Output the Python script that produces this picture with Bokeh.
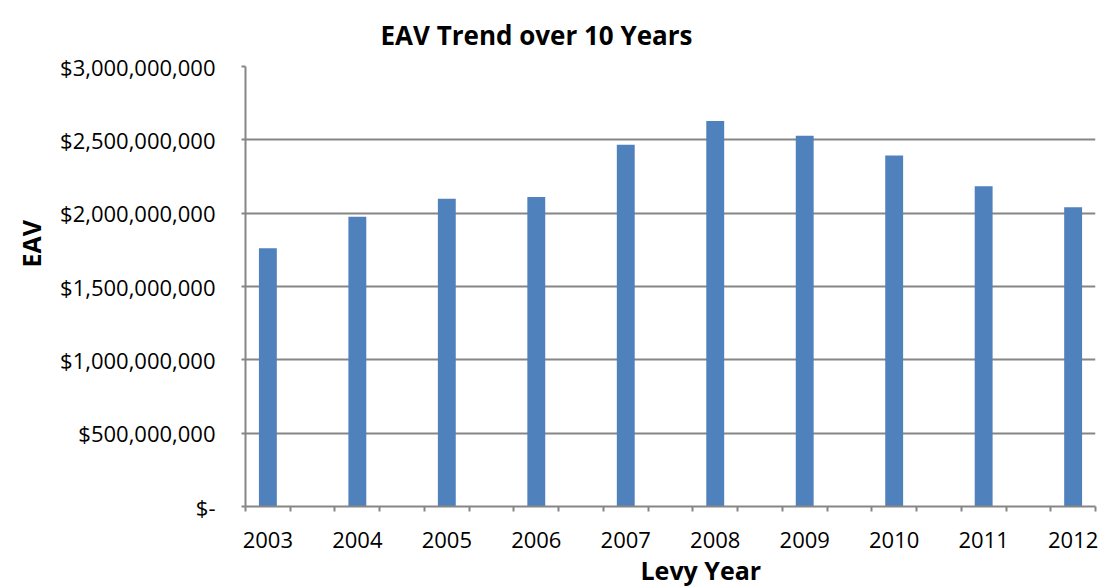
from bokeh.plotting import figure
from bokeh.models import ColumnDataSource, FixedTicker, Range1d, Title
from bokeh.embed import file_html
from bokeh.resources import INLINE

years = ["2003", "2004", "2005", "2006", "2007", "2008", "2009", "2010", "2011", "2012"]
eav = [1.760e9, 1.975e9, 2.098e9, 2.110e9, 2.466e9, 2.628e9, 2.528e9, 2.394e9, 2.183e9, 2.040e9]
y_ticks = [0, 5e8, 1e9, 1.5e9, 2e9, 2.5e9, 3e9]
y_tick_labels = ["$-", "$500,000,000", "$1,000,000,000", "$1,500,000,000",
                 "$2,000,000,000", "$2,500,000,000", "$3,000,000,000"]

FONT = "Open Sans"
GRAY = "#868686"
BLUE = "#4F81BD"

xpos = list(range(len(years)))
src = ColumnDataSource(dict(x=xpos, top=eav))

p = figure(width=1102, height=588, output_backend="svg", toolbar_location=None,
           x_range=Range1d(-0.25, len(years) - 0.75), y_range=Range1d(0, 3e9),
           min_border_left=245, min_border_right=7, min_border_top=66, min_border_bottom=82)
p.outline_line_color = None
p.background_fill_color = "white"
p.border_fill_color = "white"

p.vbar(x="x", top="top", width=0.2, source=src, fill_color=BLUE, line_color=None)

# x axis
minor = [-0.25 + 0.5 * i for i in range(2 * len(years))]
p.xaxis.ticker = FixedTicker(ticks=xpos, minor_ticks=minor)
p.xaxis.major_label_overrides = {i: y for i, y in zip(xpos, years)}
p.xaxis.major_tick_out = 0
p.xaxis.major_tick_in = 0
p.xaxis.minor_tick_out = 5
p.xaxis.minor_tick_in = 0
p.xaxis.minor_tick_line_color = GRAY
p.xaxis.minor_tick_line_width = 2
p.xaxis.axis_line_color = GRAY
p.xaxis.axis_line_width = 2
p.xaxis.major_label_text_font = FONT
p.xaxis.major_label_text_font_size = "22px"
p.xaxis.major_label_text_color = "black"
p.xaxis.major_label_standoff = 20
p.xgrid.grid_line_color = None

# y axis
p.yaxis.ticker = FixedTicker(ticks=y_ticks, minor_ticks=[])
p.yaxis.major_label_overrides = {t: l for t, l in zip(y_ticks, y_tick_labels)}
p.yaxis.major_tick_out = 4
p.yaxis.major_tick_in = 0
p.yaxis.major_tick_line_color = GRAY
p.yaxis.major_tick_line_width = 2
p.yaxis.axis_line_color = GRAY
p.yaxis.axis_line_width = 2
p.yaxis.major_label_text_font = FONT
p.yaxis.major_label_text_font_size = "22px"
p.yaxis.major_label_text_color = "black"
p.yaxis.major_label_standoff = 26
p.ygrid.grid_line_color = GRAY
p.ygrid.grid_line_width = 2

# titles
p.title.text = "EAV Trend over 10 Years"
p.title.align = "left"
p.title.offset = 135
p.title.standoff = 28
p.title.text_font = FONT
p.title.text_font_size = "26px"
p.title.text_font_style = "bold"
p.title.text_color = "black"

p.add_layout(Title(text="EAV", align="left", offset=239, standoff=20, text_font=FONT,
                   text_font_size="25px", text_font_style="bold", text_color="black"), "left")
p.add_layout(Title(text="Levy Year", align="left", offset=395, standoff=1, text_font=FONT,
                   text_font_size="25px", text_font_style="bold", text_color="black"), "below")

open("out.html", "w").write(file_html(p, INLINE))
